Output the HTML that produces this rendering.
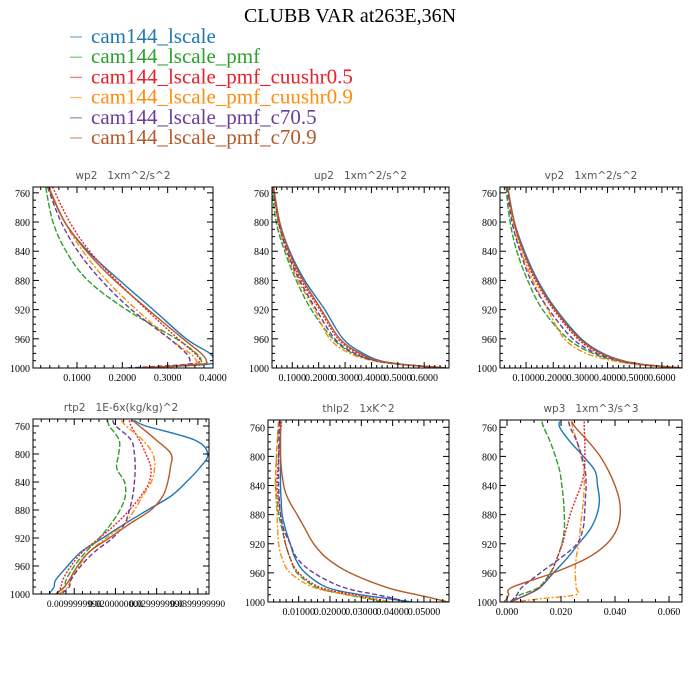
<!DOCTYPE html>
<html><head><meta charset="utf-8"><style>
body{margin:0;background:#fff}
svg{display:block}
</style></head><body>
<svg id="chart" width="700" height="700" xmlns="http://www.w3.org/2000/svg">
<text x="350" y="22" text-anchor="middle" font-family="Liberation Serif, serif" font-size="20" fill="#000">CLUBB VAR at263E,36N</text>
<g id="legend"></g>
<g id="panels"></g>
</svg>
<script>
const seriesNames = ["cam144_lscale","cam144_lscale_pmf","cam144_lscale_pmf_cuushr0.5","cam144_lscale_pmf_cuushr0.9","cam144_lscale_pmf_c70.5","cam144_lscale_pmf_c70.9"];
const colors = ["#1f77b4","#2ca02c","#e8202a","#ff8c0e","#6a3d9a","#b5592a"];
const dashes = ["","6,2","2,1.5","6,2,2,2","5,2.5",""];

const yTicks = [760,800,840,880,920,960,1000];

// wp2
const wp2Levels = [752,800,840,880,920,960,980,990,995,1000];
const wp2Values = [
 [0.038,0.073,0.124,0.194,0.268,0.341,0.393,0.400,0.385,0.238],
 [0.031,0.047,0.076,0.124,0.209,0.319,0.363,0.374,0.363,0.260],
 [0.046,0.084,0.128,0.187,0.253,0.323,0.360,0.371,0.349,0.246],
 [0.038,0.073,0.113,0.165,0.231,0.304,0.349,0.363,0.356,0.253],
 [0.035,0.065,0.102,0.154,0.220,0.304,0.341,0.349,0.341,0.209],
 [0.036,0.073,0.121,0.183,0.257,0.334,0.374,0.385,0.371,0.238]];
const wp2Ticks = [0.1,0.2,0.3,0.4];
const wp2Labels = ["0.1000","0.2000","0.3000","0.4000"];

// up2
const up2Levels = [752,800,840,880,920,960,980,990,995,1000];
const up2Values = [
 [0.027,0.052,0.090,0.147,0.223,0.292,0.368,0.432,0.520,0.685],
 [0.023,0.039,0.071,0.115,0.172,0.254,0.330,0.419,0.520,0.685],
 [0.027,0.049,0.084,0.134,0.204,0.273,0.349,0.419,0.514,0.685],
 [0.027,0.046,0.077,0.122,0.185,0.242,0.318,0.406,0.508,0.685],
 [0.027,0.048,0.080,0.128,0.191,0.261,0.337,0.413,0.510,0.685],
 [0.029,0.052,0.087,0.141,0.210,0.280,0.356,0.425,0.518,0.685]];
const up2Ticks = [0.1,0.2,0.3,0.4,0.5,0.6];
const up2Labels = ["0.1000","0.2000","0.3000","0.4000","0.5000","0.6000"];

// vp2
const vp2Levels = [752,800,840,880,920,960,980,990,995,1000];
const vp2Values = [
 [0.032,0.057,0.094,0.143,0.211,0.303,0.383,0.456,0.530,0.671],
 [0.026,0.041,0.066,0.106,0.161,0.254,0.346,0.432,0.518,0.671],
 [0.032,0.055,0.088,0.134,0.201,0.290,0.370,0.450,0.524,0.671],
 [0.032,0.051,0.082,0.125,0.180,0.241,0.321,0.419,0.505,0.653],
 [0.030,0.048,0.078,0.118,0.184,0.272,0.358,0.444,0.518,0.671],
 [0.032,0.056,0.090,0.139,0.206,0.297,0.376,0.454,0.528,0.671]];
const vp2Ticks = [0.1,0.2,0.3,0.4,0.5,0.6];
const vp2Labels = ["0.1000","0.2000","0.3000","0.4000","0.5000","0.6000"];

// rtp2
const rtp2Levels = [752,760,780,800,820,840,860,880,900,920,940,960,980,990,1000];
const rtp2Values = [
 [0.0246,0.0274,0.0392,0.0424,0.0404,0.0372,0.0335,0.0278,0.0222,0.0169,0.0116,0.0084,0.0055,0.0051,0.0039],
 [0.0181,0.0185,0.0209,0.0208,0.0203,0.0222,0.0224,0.0211,0.0189,0.0161,0.0128,0.0100,0.0080,0.0076,0.0055],
 [0.0234,0.0238,0.0258,0.0274,0.0286,0.0282,0.0262,0.0234,0.0201,0.0161,0.0120,0.0092,0.0072,0.0068,0.0059],
 [0.0214,0.0226,0.0266,0.0291,0.0295,0.0287,0.0266,0.0246,0.0222,0.0177,0.0136,0.0112,0.0092,0.0084,0.0064],
 [0.0193,0.0201,0.0238,0.0246,0.0248,0.0246,0.0242,0.0234,0.0222,0.0193,0.0149,0.0116,0.0092,0.0088,0.0068],
 [0.0242,0.0258,0.0299,0.0335,0.0333,0.0327,0.0315,0.0286,0.0234,0.0185,0.0136,0.0108,0.0088,0.0076,0.0055]];
const rtp2Ticks = [0.01,0.02,0.03,0.04];
const rtp2Labels = ["0.0099999990","0.0200000000","0.0299999990","0.0399999990"];

// thlp2
const thlp2Levels = [752,800,840,860,880,900,920,940,960,980,990,995,1000];
const thlp2Values = [
 [0.0042,0.0042,0.0042,0.0044,0.0047,0.0058,0.0073,0.0089,0.0121,0.0190,0.0296,0.0381,0.0461],
 [0.0036,0.0029,0.0026,0.0031,0.0036,0.0047,0.0058,0.0073,0.0095,0.0158,0.0254,0.0318,0.0365],
 [0.0045,0.0036,0.0031,0.0036,0.0042,0.0050,0.0058,0.0073,0.0100,0.0169,0.0275,0.0339,0.0392],
 [0.0036,0.0029,0.0026,0.0028,0.0031,0.0033,0.0036,0.0047,0.0073,0.0148,0.0254,0.0328,0.0392],
 [0.0038,0.0036,0.0036,0.0038,0.0042,0.0052,0.0073,0.0095,0.0148,0.0243,0.0349,0.0402,0.0440],
 [0.0042,0.0042,0.0052,0.0068,0.0095,0.0121,0.0148,0.0190,0.0264,0.0381,0.0477,0.0530,0.0577]];
const thlp2Ticks = [0.01,0.02,0.03,0.04,0.05];
const thlp2Labels = ["0.01000","0.02000","0.03000","0.04000","0.05000"];

// wp3
const wp3Levels = [752,760,780,800,820,840,860,880,900,920,940,960,980,990,995,1000];
const wp3Values = [
 [0.0195,0.0195,0.0234,0.0283,0.0326,0.0335,0.0342,0.0333,0.0308,0.0265,0.0222,0.0172,0.0123,0.0074,0.0043,0.0012],
 [0.0129,0.0136,0.0160,0.0179,0.0195,0.0203,0.0209,0.0212,0.0212,0.0203,0.0185,0.0160,0.0117,0.0049,0.0031,0.0012],
 [0.0286,0.0286,0.0288,0.0288,0.0286,0.0274,0.0253,0.0234,0.0219,0.0205,0.0185,0.0163,0.0121,0.0074,0.0043,0.0012],
 [0.0238,0.0243,0.0259,0.0274,0.0286,0.0286,0.0283,0.0277,0.0271,0.0265,0.0256,0.0253,0.0256,0.0256,0.0136,0.0018],
 [0.0228,0.0234,0.0259,0.0277,0.0290,0.0293,0.0290,0.0287,0.0281,0.0259,0.0197,0.0123,0.0055,0.0037,0.0025,0.0012],
 [0.0240,0.0253,0.0302,0.0345,0.0376,0.0400,0.0416,0.0419,0.0407,0.0370,0.0296,0.0172,0.0018,0.0006,0.0000,-0.0012]];
const wp3Ticks = [0.0,0.02,0.04,0.06];
const wp3Labels = ["0.000","0.020","0.040","0.060"];

const NS = "http://www.w3.org/2000/svg";
function mk(tag, attrs, parent){
  const e = document.createElementNS(NS, tag);
  for (const k in attrs) e.setAttribute(k, attrs[k]);
  parent.appendChild(e);
  return e;
}

// legend
const legend = document.getElementById('legend');
seriesNames.forEach((n,i)=>{
  const y = 37 + i*20.2;
  const g = mk('g', {}, legend);
  
  
  const l = mk('line', {x1:70, x2:82, y1:y, y2:y, stroke:colors[i], 'stroke-width':1.3, 'stroke-opacity':0.6}, g);
  
  
  const t = mk('text', {x:91, y:y+6, 'font-family':'Liberation Serif, serif', 'font-size':21, fill:colors[i]}, g);
  t.textContent = n;
  
  
});

const panels = [
 {name:'wp2', title:'wp2   1xm^2/s^2', x0:33, x1:213, yTop:187, yBot:368, pTop:752, xmin:0.003, xmax:0.400, levels:wp2Levels, values:wp2Values, ticks:wp2Ticks, labels:wp2Labels, minor:5, lfs:10},
 {name:'up2', title:'up2   1xm^2/s^2', x0:272, x1:449, yTop:187, yBot:368, pTop:752, xmin:0.023, xmax:0.694, levels:up2Levels, values:up2Values, ticks:up2Ticks, labels:up2Labels, minor:5, lfs:10},
 {name:'vp2', title:'vp2   1xm^2/s^2', x0:500, x1:682, yTop:187, yBot:368, pTop:752, xmin:0.004, xmax:0.674, levels:vp2Levels, values:vp2Values, ticks:vp2Ticks, labels:vp2Labels, minor:5, lfs:10},
 {name:'rtp2', title:'rtp2   1E-6x(kg/kg)^2', x0:33, x1:209, yTop:419, yBot:594, pTop:750, xmin:0.0, xmax:0.0427, levels:rtp2Levels, values:rtp2Values, ticks:rtp2Ticks, labels:rtp2Labels, minor:5, lfs:9.5},
 {name:'thlp2', title:'thlp2   1xK^2', x0:268, x1:449, yTop:420, yBot:602, pTop:750, xmin:0.0002, xmax:0.058, levels:thlp2Levels, values:thlp2Values, ticks:thlp2Ticks, labels:thlp2Labels, minor:5, lfs:10},
 {name:'wp3', title:'wp3   1xm^3/s^3', x0:500, x1:682, yTop:420, yBot:602, pTop:750, xmin:-0.0026, xmax:0.0648, levels:wp3Levels, values:wp3Values, ticks:wp3Ticks, labels:wp3Labels, minor:4, lfs:10}
];

function smoothPath(pts){
  let d = 'M' + pts[0][0].toFixed(1) + ',' + pts[0][1].toFixed(1);
  for (let i = 0; i < pts.length - 1; i++){
    const p0 = pts[Math.max(0,i-1)], p1 = pts[i], p2 = pts[i+1], p3 = pts[Math.min(pts.length-1,i+2)];
    const c1x = p1[0] + (p2[0]-p0[0])/6, c1y = p1[1] + (p2[1]-p0[1])/6;
    const c2x = p2[0] - (p3[0]-p1[0])/6, c2y = p2[1] - (p3[1]-p1[1])/6;
    d += 'C' + c1x.toFixed(1) + ',' + c1y.toFixed(1) + ' ' + c2x.toFixed(1) + ',' + c2y.toFixed(1) + ' ' + p2[0].toFixed(1) + ',' + p2[1].toFixed(1);
  }
  return d;
}

const pg = document.getElementById('panels');
panels.forEach(p=>{
  const g = mk('g', {}, pg);
  
  
  const xs = v => p.x0 + (v - p.xmin)/(p.xmax - p.xmin)*(p.x1 - p.x0);
  const ys = v => p.yBot - (1000 - v)/(1000 - p.pTop)*(p.yBot - p.yTop);
  const t = mk('text', {x:(p.x0+p.x1)/2, y:p.yTop-8, 'text-anchor':'middle', 'font-family':'DejaVu Sans, sans-serif', 'font-size':10.5, fill:'#555', style:'white-space:pre'}, g);
  t.textContent = p.title;
  
  
  const cp = mk('clipPath', {id:'clip-' + p.name}, g);
  mk('rect', {x:p.x0, y:p.yTop, width:p.x1-p.x0, height:p.yBot-p.yTop}, cp);
  const sg = mk('g', {'clip-path':'url(#clip-' + p.name + ')'}, g);
  
  
  p.values.forEach((vals,i)=>{
    const pts = vals.map((v,j)=>[xs(v), ys(p.levels[j])]);
    const path = mk('path', {d:smoothPath(pts), fill:'none', stroke:colors[i], 'stroke-width':1.4, 'stroke-dasharray':dashes[i], 'stroke-linejoin':'round'}, sg);
    
    
  });
  const r = mk('rect', {x:p.x0, y:p.yTop, width:p.x1-p.x0, height:p.yBot-p.yTop, fill:'none', stroke:'#000', 'stroke-width':1}, g);
  
  
  for (let pv = 760; pv <= 1000; pv += 10){
    const Y = ys(pv);
    const major = (pv - 760) % 40 === 0;
    const L = major ? 6 : 3;
    mk('line', {x1:p.x0, x2:p.x0+L, y1:Y, y2:Y, stroke:'#000', 'stroke-width':1}, g);
    mk('line', {x1:p.x1, x2:p.x1-L, y1:Y, y2:Y, stroke:'#000', 'stroke-width':1}, g);
  }
  yTicks.forEach(pv=>{
    const tl = mk('text', {x:p.x0-3, y:ys(pv)+4, 'text-anchor':'end', 'font-family':'Liberation Serif, serif', 'font-size':10, fill:'#000'}, g);
    tl.textContent = pv;
    
    
  });
  const step = p.ticks[1] - p.ticks[0];
  const ms = step / p.minor;
  for (let k = -20; k < 200; k++){
    const v = p.ticks[0] + k*ms;
    if (v < p.xmin - 1e-9 || v > p.xmax + 1e-9) continue;
    const X = xs(v);
    const L = (k % p.minor === 0) ? 6 : 3;
    mk('line', {x1:X, x2:X, y1:p.yBot, y2:p.yBot-L, stroke:'#000', 'stroke-width':1}, g);
    mk('line', {x1:X, x2:X, y1:p.yTop, y2:p.yTop+L, stroke:'#000', 'stroke-width':1}, g);
  }
  p.ticks.forEach((v,k)=>{
    const tl = mk('text', {x:xs(v), y:p.yBot+13, 'text-anchor':'middle', 'font-family':'Liberation Serif, serif', 'font-size':p.lfs, fill:'#000'}, g);
    tl.textContent = p.labels[k];
    
    
  });
});
</script>
</body></html>
